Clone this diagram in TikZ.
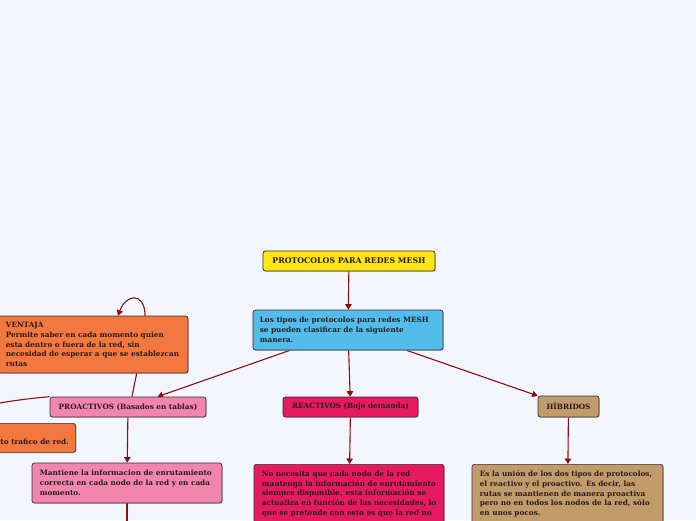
\documentclass[tikz,border=0pt]{standalone}
\usepackage{fontspec}
\setmainfont{DejaVu Serif}
\usetikzlibrary{arrows.meta,shadows}
\definecolor{bgc}{HTML}{F3F6FE}
\definecolor{yel}{HTML}{FFE514}
\definecolor{blu}{HTML}{52BDEB}
\definecolor{org}{HTML}{F27840}
\definecolor{pnk}{HTML}{F285AE}
\definecolor{crm}{HTML}{E51A60}
\definecolor{tan}{HTML}{C29B6B}
\definecolor{boxline}{HTML}{3A2A2A}
\definecolor{txtc}{HTML}{2A1C1C}
\definecolor{linkc}{HTML}{8E0E0E}
\pgfdeclarelayer{bglayer}
\pgfdeclarelayer{links}
\pgfsetlayers{bglayer,links,main}
\begin{document}
\begin{tikzpicture}[x=1pt,y=-1pt,
  box/.style={draw=boxline, line width=0.7pt, rounded corners=2.5pt, inner sep=0pt,
    font=\fontsize{7.3}{9.8}\selectfont\bfseries, text=txtc,
    drop shadow={shadow xshift=0.8pt,shadow yshift=-0.9pt,opacity=0.35}},
  txt/.style={inner sep=0pt, font=\fontsize{7.3}{9.8}\selectfont\bfseries, text=txtc, align=left},
  link/.style={draw=linkc, line width=1.1pt},
  conn/.style={link, -{Triangle[length=5.5pt,width=6.5pt]}}]
\useasboundingbox (0,0) rectangle (696,520);
\clip (0,0) rectangle (696,520);
\begin{pgfonlayer}{bglayer}
\fill[bgc] (0,0) rectangle (696,520);
\end{pgfonlayer}

% top
\node[box, fill=yel, minimum width=172pt, minimum height=20pt, font=\fontsize{7.8}{9.8}\selectfont\bfseries] (title) at (349,261) {PROTOCOLOS PARA REDES MESH};
\node[box, fill=blu, minimum width=190pt, minimum height=40pt] (blue) at (348,330) {};
\node[txt, anchor=west] (bluetxt) at ([xshift=7pt]blue.west) {Los tipos de protocolos para redes MESH\\se pueden clasificar de la siguiente\\manera.};

% second level
\node[box, fill=pnk, minimum width=156pt, minimum height=20pt] (proa) at (128,407) {PROACTIVOS (Basados en tablas)};
\node[box, fill=crm, minimum width=135pt, minimum height=20pt] (reac) at (350.5,407) {REACTIVOS (Bajo demanda)};
\node[box, fill=tan, minimum width=61pt, minimum height=21pt] (hib) at (568.5,406.5) {HÍBRIDOS};

% ventaja
\node[box, fill=org, minimum width=190pt, minimum height=57pt] (vent) at (93,344.5) {};
\node[txt, anchor=west] (venttxt) at ([xshift=8pt]vent.west) {VENTAJA\\Permite saber en cada momento quien\\esta dentro o fuera de la red, sin\\necesidad de esperar a que se establezcan\\rutas};

% desventaja (cut off)
\node[box, fill=org, minimum width=160pt, minimum height=29pt, anchor=north east] (desv) at (76,423) {};
\node[txt, anchor=base east] (desvtxt) at (69,444) {to trafico de red.};

% third level
\node[box, fill=pnk, minimum width=190pt, minimum height=40pt] (mant) at (127,483) {};
\node[txt, anchor=west] (manttxt) at ([xshift=8pt]mant.west) {Mantiene la informacion de enrutamiento\\correcta en cada nodo de la red y en cada\\momento.};

\node[box, fill=crm, minimum width=190pt, minimum height=80pt, anchor=north] (reacdet) at (349,464) {};
\node[txt, anchor=north west] (reactxt) at ([xshift=8pt,yshift=-6.5pt]reacdet.north west) {No necesita que cada nodo de la red\\mantenga la información de enrutamiento\\siempre disponible. esta información se\\actualiza en función de las necesidades, lo\\que se pretende con esto es que la red no};

\node[box, fill=tan, minimum width=191pt, minimum height=80pt, anchor=north] (hibdet) at (567.5,464) {};
\node[txt, anchor=north west] (hibtxt) at ([xshift=8pt,yshift=-6.5pt]hibdet.north west) {Es la unión de los dos tipos de protocolos,\\el reactivo y el proactivo. Es decir, las\\rutas se mantienen de manera proactiva\\pero no en todos los nodos de la red, sólo\\en unos pocos.};

\coordinate (offL) at (-40,410);
\coordinate (offB) at (127,540);

\begin{pgfonlayer}{links}
\draw[conn] (title) -- (blue);
\draw[conn] (blue) -- (proa);
\draw[conn] (blue) -- (reac);
\draw[conn] (blue) -- (hib);
\draw[conn] (proa) -- (mant);
\draw[conn] (reac) -- (reacdet);
\draw[conn] (hib) -- (hibdet);
\draw[link] (mant) -- (offB);
\draw[link] (proa.north west) to[out=185,in=10] (offL);
\draw[conn] ([xshift=4pt]proa.north) .. controls (138,365) and (146,335) .. (145,314)
  .. controls (144,292) and (126,294) .. ([xshift=25pt]vent.north);
\end{pgfonlayer}
\end{tikzpicture}
\end{document}
